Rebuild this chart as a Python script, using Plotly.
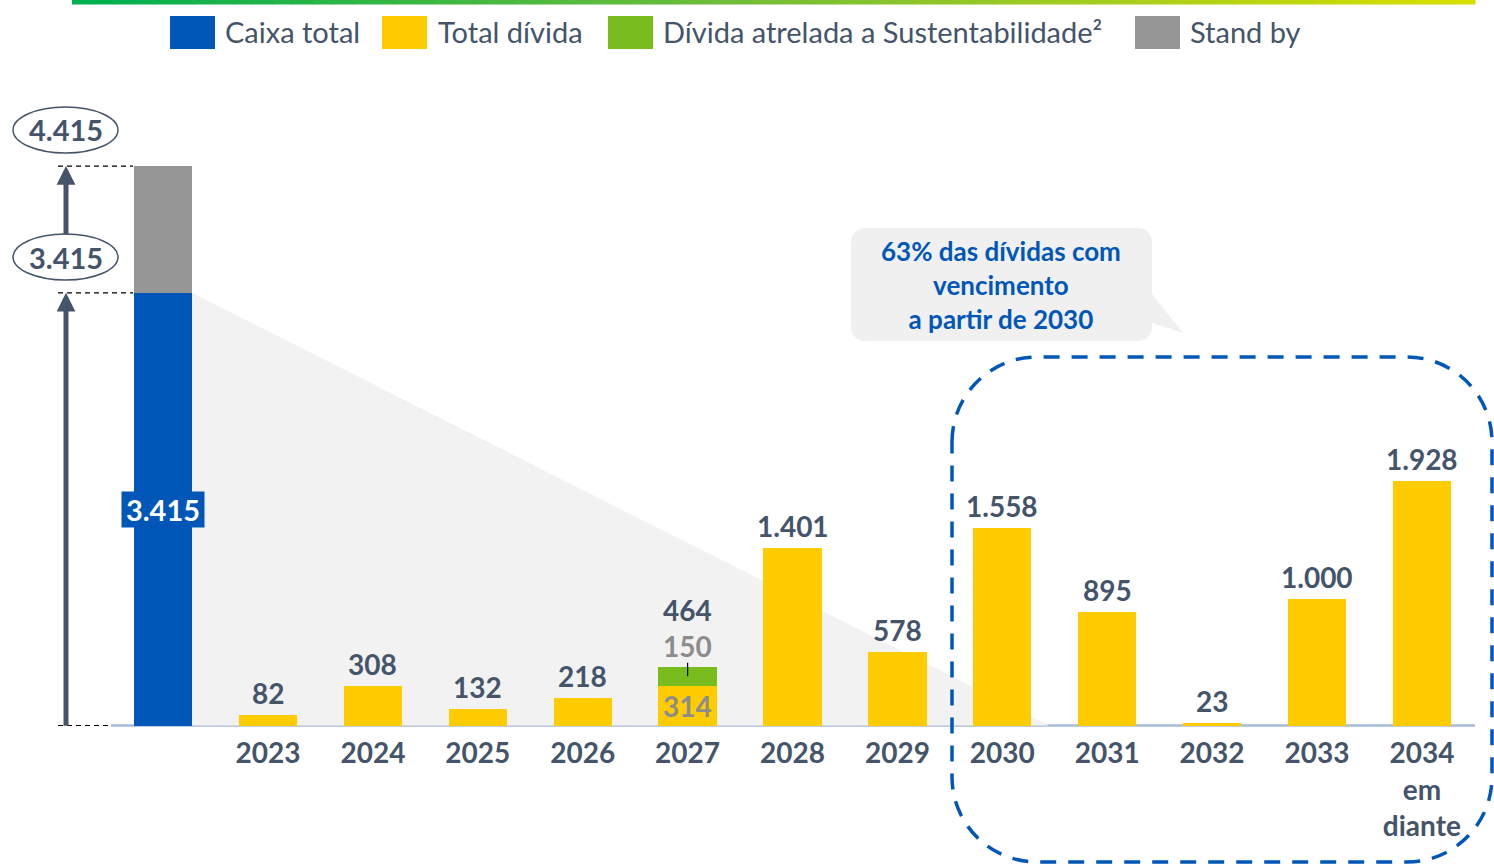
import plotly.graph_objects as go

W, H = 1494, 868

# ---------------- data ----------------
anos = ["2023", "2024", "2025", "2026", "2027", "2028", "2029",
        "2030", "2031", "2032", "2033", "2034<br>em<br>diante"]
total_divida = [82, 308, 132, 218, 314, 1401, 578, 1558, 895, 23, 1000, 1928]
divida_sust = [0, 0, 0, 0, 150, 0, 0, 0, 0, 0, 0, 0]
caixa_total = 3415
stand_by = 1000
legend_labels = ["Caixa total", "Total dívida",
                 "Dívida atrelada a Sustentabilidade²", "Stand by"]
callout_text = "63% das dívidas com<br>vencimento<br>a partir de 2030"

# ---------------- styles ----------------
BLUE = "#0057b8"
YELLOW = "#ffcc00"
GREEN = "#78bc1e"
GRAY = "#969696"
SLATE = "#44546a"
SHADE = "#f2f2f2"
FONT = "Lato"

# plot area = whole figure; pixel geometry
X0_PX, DX_PX = 163.1, 104.9
BASE_PX, SY = 725.5, 0.1267
xr = [-X0_PX / DX_PX, (W - X0_PX) / DX_PX]
yr = [-(H - BASE_PX) / SY, BASE_PX / SY]
BW = 0.555


def px(x):
    return x / W


def py(y):
    return 1 - y / H


def dx(xpix):
    return (xpix - X0_PX) / DX_PX


def P(x, y):
    return f"{px(x):.5f},{py(y):.5f}"


def fmt(v):
    return f"{v:,}".replace(",", ".")


xs = list(range(1, len(anos) + 1))
totals = [a + b for a, b in zip(total_divida, divida_sust)]

fig = go.Figure()
fig.add_trace(go.Bar(x=[0], y=[caixa_total], marker=dict(color=BLUE, line=dict(width=0)),
                     width=BW, name=legend_labels[0]))
fig.add_trace(go.Bar(x=[0], y=[stand_by], marker=dict(color=GRAY, line=dict(width=0)),
                     width=BW, name=legend_labels[3]))
fig.add_trace(go.Bar(x=xs, y=total_divida, marker=dict(color=YELLOW, line=dict(width=0)),
                     width=BW, name=legend_labels[1]))
fig.add_trace(go.Bar(x=xs, y=divida_sust, marker=dict(color=GREEN, line=dict(width=0)),
                     width=BW, name=legend_labels[2]))

shapes = []
ann = []

# gray shaded wedge from top of cash bar
shade_end = dx(1049)
shapes.append(dict(type="path", xref="x", yref="y", layer="below",
                   path=f"M {BW/2},{caixa_total} L {BW/2},0 L {shade_end},0 Z",
                   fillcolor=SHADE, line=dict(width=0)))

# top gradient line
n = 70
x_start, x_end = 72, 1475
c_stops = [(0, 176, 80), (120, 190, 55), (215, 222, 0)]


def grad(t):
    if t < 0.5:
        a, b, u = c_stops[0], c_stops[1], t / 0.5
    else:
        a, b, u = c_stops[1], c_stops[2], (t - 0.5) / 0.5
    return "rgb(%d,%d,%d)" % tuple(round(a[k] + (b[k] - a[k]) * u) for k in range(3))


seg = (x_end - x_start) / n
for i in range(n):
    shapes.append(dict(type="rect", xref="paper", yref="paper",
                       x0=px(x_start + i * seg), x1=px(x_start + (i + 1) * seg + 0.6),
                       y0=py(4.5), y1=py(0), fillcolor=grad(i / (n - 1)), line=dict(width=0)))

# legend (manual)
sq_x = [170, 382, 608, 1135]
txt_x = [225, 438, 663, 1190]
leg_cols = [BLUE, YELLOW, GREEN, GRAY]
for sx, tx, col, lab in zip(sq_x, txt_x, leg_cols, legend_labels):
    shapes.append(dict(type="rect", xref="paper", yref="paper",
                       x0=px(sx), x1=px(sx + 45), y0=py(49), y1=py(16),
                       fillcolor=col, line=dict(width=0)))
    ann.append(dict(xref="paper", yref="paper", x=px(tx - 2), y=py(32), text=lab,
                    showarrow=False, xanchor="left", yanchor="middle",
                    font=dict(family=FONT, size=29, color=SLATE)))

# x axis line (below bars)
shapes.append(dict(type="line", xref="paper", yref="y", x0=px(111), x1=px(1475),
                   y0=0, y1=0, layer="below", line=dict(color="#a9bbd6", width=2.5)))

# dashed reference lines at left
for yv, xe in [(caixa_total + stand_by, 133), (caixa_total, 133), (0, 110)]:
    shapes.append(dict(type="line", xref="paper", yref="y", x0=px(58), x1=px(xe),
                       y0=yv, y1=yv, line=dict(color="black", width=1.2, dash="5px,4px")))

# arrows
ann.append(dict(xref="paper", yref="y", x=px(66), y=caixa_total, ax=0, ay=BASE_PX - 293 + 2,
                text="", showarrow=True, arrowhead=2, arrowsize=0.75, arrowwidth=5,
                arrowcolor=SLATE))
ann.append(dict(xref="paper", yref="y", x=px(66), y=caixa_total + stand_by, ax=0, ay=70,
                text="", showarrow=True, arrowhead=2, arrowsize=0.75, arrowwidth=5,
                arrowcolor=SLATE))

# ellipses with totals
for cy, val in [(130, caixa_total + stand_by), (257, caixa_total)]:
    shapes.append(dict(type="circle", xref="paper", yref="paper",
                       x0=px(13), x1=px(118), y0=py(cy + 23), y1=py(cy - 23),
                       fillcolor="white", line=dict(color=SLATE, width=1.5)))
    ann.append(dict(xref="paper", yref="paper", x=px(65.5), y=py(cy), text=f"<b>{fmt(val)}</b>",
                    showarrow=False, xanchor="center", yanchor="middle",
                    font=dict(family=FONT, size=29, color=SLATE)))

# cash label
ann.append(dict(x=0, y=caixa_total / 2, text=f"<b>{fmt(caixa_total)}</b>", showarrow=False,
                xanchor="center", yanchor="middle", bgcolor=BLUE, width=80, height=33,
                borderpad=1, font=dict(family=FONT, size=29, color="white")))

# value labels
VS = 28
for x, yel, gr, tot in zip(xs, total_divida, divida_sust, totals):
    if gr > 0:
        ann.append(dict(x=x, y=tot, text=f"<b>{fmt(tot)}</b>", showarrow=False,
                        yanchor="middle", yshift=57,
                        font=dict(family=FONT, size=VS, color=SLATE)))
        ann.append(dict(x=x, y=tot, text=f"<b>{fmt(gr)}</b>", showarrow=False,
                        yanchor="middle", yshift=21,
                        font=dict(family=FONT, size=VS, color="#8c8c8c")))
        ann.append(dict(x=x, y=yel / 2, text=f"<b>{fmt(yel)}</b>", showarrow=False,
                        yanchor="middle",
                        font=dict(family=FONT, size=VS, color="#8c8c8c")))
        shapes.append(dict(type="line", xref="x", yref="y", x0=x, x1=x,
                           y0=yel + gr * 0.5, y1=tot + 4 / SY,
                           line=dict(color="black", width=1.2)))
    else:
        ann.append(dict(x=x, y=tot, text=f"<b>{fmt(tot)}</b>", showarrow=False,
                        yanchor="middle", yshift=22,
                        font=dict(family=FONT, size=VS, color=SLATE)))

# callout bubble
L, R, T, B, r = 851, 1152, 228, 341, 16
callout = (f"M {P(L + r, T)} L {P(R - r, T)} Q {P(R, T)} {P(R, T + r)} "
           f"L {P(R, 294)} L {P(1183, 333)} L {P(R, 323)} L {P(R, B - r)} "
           f"Q {P(R, B)} {P(R - r, B)} L {P(L + r, B)} Q {P(L, B)} {P(L, B - r)} "
           f"L {P(L, T + r)} Q {P(L, T)} {P(L + r, T)} Z")
shapes.append(dict(type="path", xref="paper", yref="paper", path=callout,
                   fillcolor="#f0f0f0", line=dict(width=0), layer="below"))
ann.append(dict(xref="paper", yref="paper", x=px(1001), y=py(285), text=f"<b>{callout_text}</b>",
                showarrow=False, align="center", xanchor="center", yanchor="middle",
                font=dict(family=FONT, size=26, color=BLUE)))

# dashed rounded box around 2030+
L, R, T, B, r = 952, 1492, 357, 862, 85
k = 0.5523 * r
box = (f"M {P(L, T + r)} C {P(L, T + r - k)} {P(L + r - k, T)} {P(L + r, T)} "
       f"L {P(R - r, T)} C {P(R - r + k, T)} {P(R, T + r - k)} {P(R, T + r)} "
       f"L {P(R, B - r)} C {P(R, B - r + k)} {P(R - r + k, B)} {P(R - r, B)} "
       f"L {P(L + r, B)} C {P(L + r - k, B)} {P(L, B - r + k)} {P(L, B - r)} Z")
shapes.append(dict(type="path", xref="paper", yref="paper", path=box,
                   line=dict(color=BLUE, width=3.5, dash="16px,12px")))

fig.update_layout(
    width=W, height=H,
    margin=dict(l=0, r=0, t=0, b=0, pad=0),
    paper_bgcolor="white", plot_bgcolor="rgba(0,0,0,0)",
    barmode="stack", showlegend=False,
    shapes=shapes, annotations=ann,
    xaxis=dict(range=xr, anchor="free", position=py(BASE_PX), automargin=False,
               tickmode="array", tickvals=xs, ticktext=anos,
               ticks="outside", ticklen=3, tickcolor="rgba(0,0,0,0)",
               tickfont=dict(family=FONT, size=28, color=SLATE, weight="bold"),
               showgrid=False, zeroline=False, showline=False, fixedrange=True),
    yaxis=dict(range=yr, visible=False, showgrid=False, zeroline=False, fixedrange=True),
)

fig.write_html("out.html", config={"displayModeBar": False},
               post_script="document.body.style.margin='0';")
